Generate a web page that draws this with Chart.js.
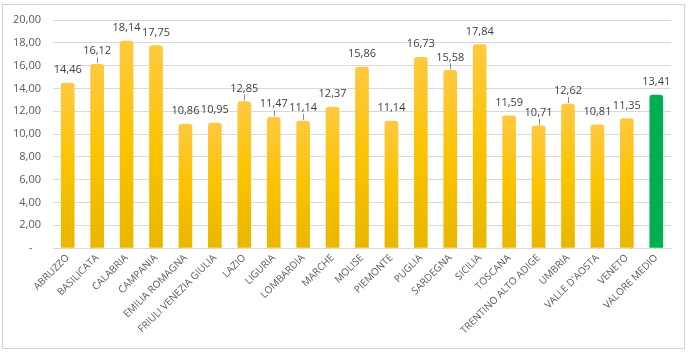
<!DOCTYPE html>
<html>
<head>
<meta charset="utf-8">
<script src="https://cdn.jsdelivr.net/npm/chart.js@4.4.1/dist/chart.umd.min.js"></script>
<style>
  html, body { margin: 0; padding: 0; background: #fff; }
  #wrap { position: relative; width: 688px; height: 353px; }
</style>
</head>
<body>
<div id="wrap"><canvas id="chart" width="688" height="353"></canvas></div>
<script>
// dati
const regioni = ['ABRUZZO', 'BASILICATA', 'CALABRIA', 'CAMPANIA', 'EMILIA ROMAGNA',
  'FRIULI VENEZIA GIULIA', 'LAZIO', 'LIGURIA', 'LOMBARDIA', 'MARCHE', 'MOLISE',
  'PIEMONTE', 'PUGLIA', 'SARDEGNA', 'SICILIA', 'TOSCANA', 'TRENTINO ALTO ADIGE',
  'UMBRIA', "VALLE D'AOSTA", 'VENETO', 'VALORE MEDIO'];
const valori = [14.46, 16.12, 18.14, 17.75, 10.86, 10.95, 12.85, 11.47, 11.14, 12.37,
  15.86, 11.14, 16.73, 15.58, 17.84, 11.59, 10.71, 12.62, 10.81, 11.35, 13.41];
const yTicks = [0, 2, 4, 6, 8, 10, 12, 14, 16, 18, 20];

// etichette con linea guida (come nell'originale)
const conLinea = ['BASILICATA', 'LAZIO', 'LIGURIA', 'LOMBARDIA', 'SARDEGNA', 'TRENTINO ALTO ADIGE', 'UMBRIA'];

const fmt = v => v.toFixed(2).replace('.', ',');

function coloreBarra(ctx) {
  const chart = ctx.chart;
  const i = ctx.dataIndex;
  if (regioni[i] === 'VALORE MEDIO') return '#00B050';
  const y = chart.scales.y;
  if (!chart.chartArea || !y || i === undefined) return '#F5C000';
  const top = y.getPixelForValue(valori[i]);
  const bottom = y.getPixelForValue(0);
  const g = chart.ctx.createLinearGradient(0, top, 0, bottom);
  g.addColorStop(0, '#FFC940');
  g.addColorStop(0.5, '#FBC300');
  g.addColorStop(1, '#E9B700');
  return g;
}

const cornice = {
  id: 'cornice',
  beforeDraw(chart) {
    const c = chart.ctx;
    c.save();
    c.fillStyle = '#fff';
    c.fillRect(0, 0, chart.width, chart.height);
    c.strokeStyle = '#D0D0D0';
    c.lineWidth = 1;
    c.strokeRect(2.5, 4.5, 682, 344);
    c.restore();
  }
};

const etichette = {
  id: 'etichette',
  afterDatasetsDraw(chart) {
    const c = chart.ctx;
    const meta = chart.getDatasetMeta(0);
    c.save();
    c.font = '11px "Open Sans"';
    c.fillStyle = '#404040';
    c.textAlign = 'center';
    c.textBaseline = 'middle';
    meta.data.forEach((bar, i) => {
      c.fillText(fmt(valori[i]), bar.x, bar.y - 13);
      if (conLinea.includes(regioni[i])) {
        c.strokeStyle = '#8C8C8C';
        c.beginPath();
        c.moveTo(Math.round(bar.x) + 0.5, bar.y - 7);
        c.lineTo(Math.round(bar.x) + 0.5, bar.y - 1);
        c.stroke();
      }
    });
    c.restore();
  }
};

new Chart(document.getElementById('chart').getContext('2d'), {
  type: 'bar',
  data: {
    labels: regioni,
    datasets: [{
      data: valori,
      backgroundColor: coloreBarra,
      borderWidth: 0,
      borderRadius: { topLeft: 3, topRight: 3, bottomLeft: 0, bottomRight: 0 },
      borderSkipped: 'bottom',
      barThickness: 13
    }]
  },
  options: {
    responsive: false,
    animation: false,
    layout: { padding: { top: 20, right: 17, left: 0, bottom: 0 } },
    plugins: {
      legend: { display: false },
      tooltip: { enabled: false }
    },
    scales: {
      x: {
        grid: { display: false, drawTicks: false },
        border: { display: true, color: '#D9D9D9' },
        ticks: {
          color: '#595959',
          font: { family: 'Open Sans', size: 10 },
          minRotation: 45,
          maxRotation: 45,
          autoSkip: false,
          padding: 4
        },
        afterFit(scale) { scale.height = 105; }
      },
      y: {
        min: 0,
        max: 20,
        afterBuildTicks(scale) { scale.ticks = yTicks.map(v => ({ value: v })); },
        grid: { color: '#D9D9D9', drawTicks: false },
        border: { display: false },
        ticks: {
          color: '#595959',
          font: { family: 'Open Sans', size: 11 },
          padding: 12,
          callback: v => v === 0 ? '-   ' : fmt(v)
        },
        afterFit(scale) { scale.width = 53; }
      }
    }
  },
  plugins: [cornice, etichette]
});
</script>
</body>
</html>
